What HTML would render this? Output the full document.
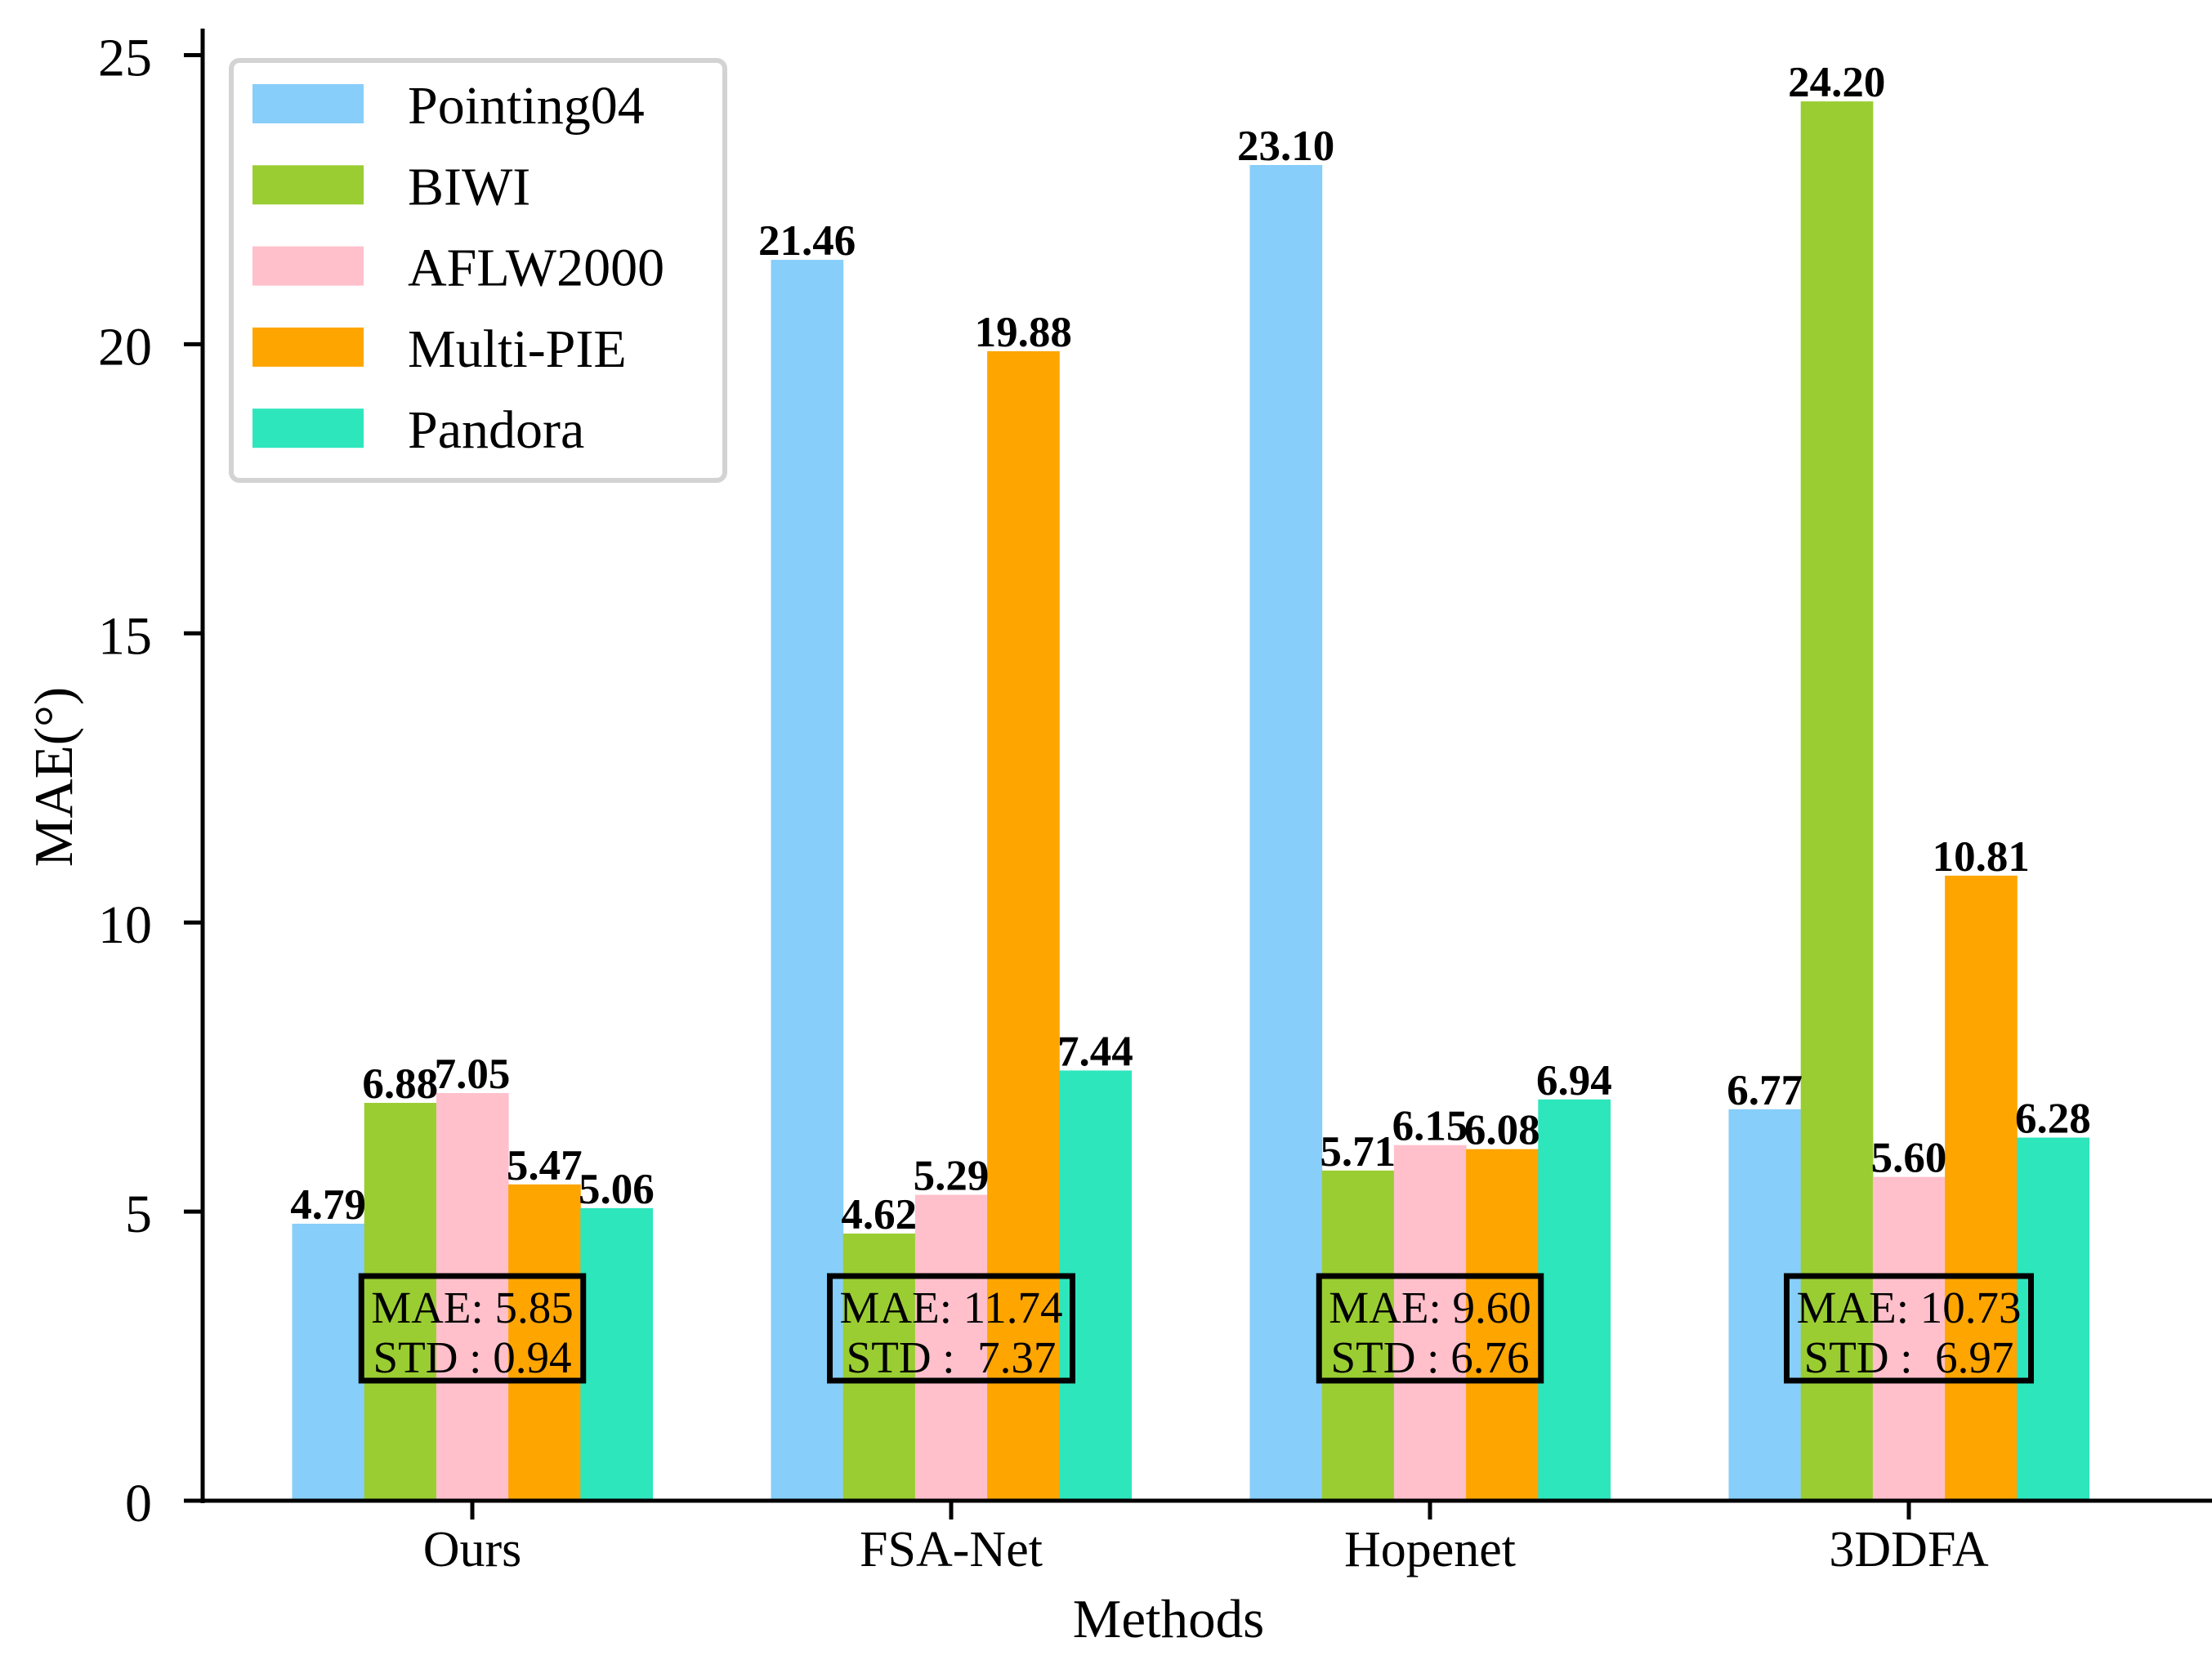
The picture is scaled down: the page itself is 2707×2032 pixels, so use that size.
<!DOCTYPE html>
<html><head><meta charset="utf-8"><style>
html,body{margin:0;padding:0;background:#fff;}
svg{display:block;font-family:"Liberation Serif",serif;}
text{white-space:pre;}
</style></head><body>
<svg id="chart" width="2707" height="2032" viewBox="0 0 2707 2032" xmlns="http://www.w3.org/2000/svg">
<g id="bars"></g>
<g id="labels"></g>
<g id="boxes"></g>
<g id="axes"></g>
<g id="legend"></g>
</svg>
<script>
const categories = ["Ours", "FSA-Net", "Hopenet", "3DDFA"];
const seriesNames = ["Pointing04", "BIWI", "AFLW2000", "Multi-PIE", "Pandora"];
const pointing04 = [4.79, 21.46, 23.10, 6.77];
const biwi = [6.88, 4.62, 5.71, 24.20];
const aflw2000 = [7.05, 5.29, 6.15, 5.60];
const multipie = [5.47, 19.88, 6.08, 10.81];
const pandora = [5.06, 7.44, 6.94, 6.28];
const maeSummary = ["5.85", "11.74", "9.60", "10.73"];
const stdSummary = ["0.94", " 7.37", "6.76", " 6.97"];
const yTicks = [0, 5, 10, 15, 20, 25];

const colors = ["#87CEFA", "#9ACD32", "#FFC0CB", "#FFA500", "#2EE6BC"];
const series = [pointing04, biwi, aflw2000, multipie, pandora];
const NS = "http://www.w3.org/2000/svg";
const y0 = 1837, yPerUnit = 70.78, axisX = 248;
const groupStart = 578, groupStep = 586, barW = 88.2;
function yScale(v){ return y0 - v * yPerUnit; }
function xCenter(i){ return groupStart + i * groupStep; }
function mk(tag, attrs, parent){ const e = document.createElementNS(NS, tag); for (const k in attrs) e.setAttribute(k, attrs[k]); parent.appendChild(e); return e; }

const gb = document.getElementById("bars"), gl = document.getElementById("labels"), gx = document.getElementById("boxes"), ga = document.getElementById("axes"), gL = document.getElementById("legend");

series.forEach((vals, s) => {
  vals.forEach((v, i) => {
    const x = xCenter(i) + (s - 2.5) * barW;
    const r = mk("rect", {x: x, y: yScale(v), width: barW + 0.5, height: y0 - yScale(v), fill: colors[s]}, gb);
    
    
    const t = mk("text", {x: x + barW / 2, y: yScale(v) - 6, "text-anchor": "middle", "font-size": 53, "font-weight": "bold", fill: "#000"}, gl);
    t.textContent = v.toFixed(2);
    
    
  });
});

categories.forEach((c, i) => {
  const cx = xCenter(i);
  const g = mk("g", {}, gx);
  
  
  const rect = mk("rect", {fill: "none", stroke: "#000", "stroke-width": 7}, g);
  const t1 = mk("text", {x: cx, y: 1619, "text-anchor": "middle", "font-size": 55}, g);
  t1.textContent = "MAE: " + maeSummary[i];
  const t2 = mk("text", {x: cx, y: 1680, "text-anchor": "middle", "font-size": 55}, g);
  t2.textContent = "STD : " + stdSummary[i];
  const w = Math.max(t1.getBBox().width, t2.getBBox().width) + 24;
  rect.setAttribute("x", cx - w / 2); rect.setAttribute("y", 1562);
  rect.setAttribute("width", w); rect.setAttribute("height", 128);
});

// axes
let e = mk("line", {x1: axisX, y1: 35, x2: axisX, y2: y0 + 3, stroke: "#000", "stroke-width": 5}, ga);
 
e = mk("line", {x1: 226, y1: y0, x2: 2707, y2: y0, stroke: "#000", "stroke-width": 5}, ga);
 
yTicks.forEach(v => {
  const y = yScale(v);
  mk("line", {x1: axisX - 23, y1: y, x2: axisX, y2: y, stroke: "#000", "stroke-width": 5}, ga);
  const t = mk("text", {x: 186, y: y + 25, "text-anchor": "end", "font-size": 66}, ga);
  t.textContent = v;
  
  
});
categories.forEach((c, i) => {
  const x = xCenter(i);
  mk("line", {x1: x, y1: y0, x2: x, y2: y0 + 23, stroke: "#000", "stroke-width": 5}, ga);
  const t = mk("text", {x: x, y: 1917, "text-anchor": "middle", "font-size": 62}, ga);
  t.textContent = c;
  
  
});
e = mk("text", {x: 1430, y: 2004, "text-anchor": "middle", "font-size": 67}, ga);
e.textContent = "Methods";
 
e = mk("text", {x: 0, y: 0, "text-anchor": "middle", "font-size": 67, transform: "translate(88,951) rotate(-90)"}, ga);
e.textContent = "MAE(°)";
 

// legend
e = mk("rect", {x: 283, y: 74, width: 604, height: 514, rx: 10, fill: "#fff", stroke: "#d3d3d3", "stroke-width": 6}, gL);
 
seriesNames.forEach((n, s) => {
  const y = 103 + s * 99.3;
  const g = mk("g", {}, gL);
  
  
  mk("rect", {x: 309, y: y, width: 136, height: 48, fill: colors[s]}, g);
  const t = mk("text", {x: 499, y: y + 48, "font-size": 66}, g);
  t.textContent = n;
});
</script>
</body></html>
